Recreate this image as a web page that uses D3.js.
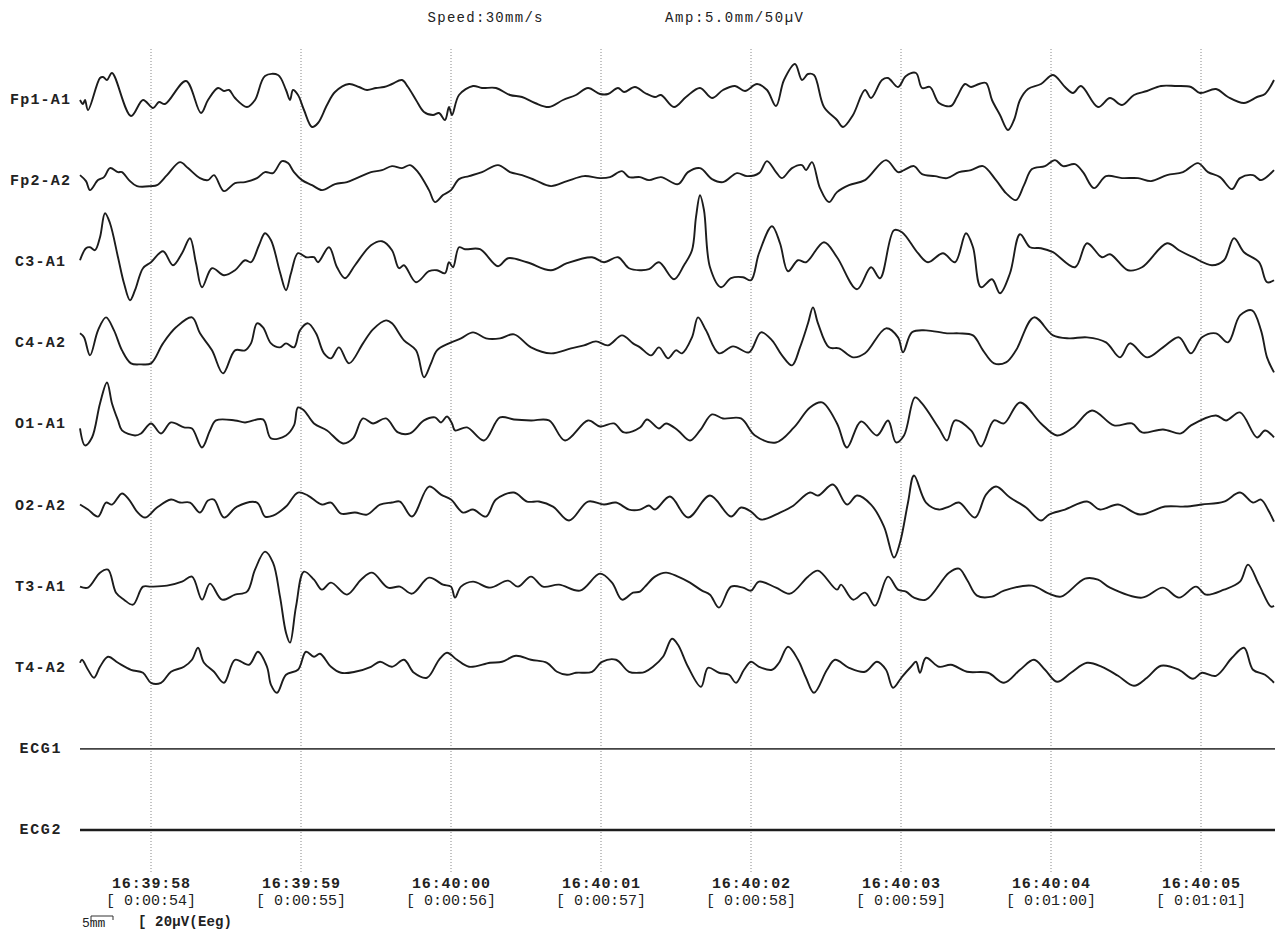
<!DOCTYPE html>
<html>
<head>
<meta charset="utf-8">
<script src="https://cdn.jsdelivr.net/npm/d3@7"></script>
<style>
  body { margin: 0; background: #fff; }
  text { font-family: "Liberation Mono", "Courier New", monospace; fill: #222; }
</style>
</head>
<body>
<div id="eeg"></div>
<script>
// montage
const channels = ["Fp1-A1", "Fp2-A2", "C3-A1", "C4-A2", "O1-A1", "O2-A2", "T3-A1", "T4-A2", "ECG1", "ECG2"];

// page timing: 150 samples per second, first second mark at sample 71
const fs = 150;
const firstTick = 71;
const nSamples = 1195;
const clockLabels = ["16:39:58", "16:39:59", "16:40:00", "16:40:01", "16:40:02", "16:40:03", "16:40:04", "16:40:05"];
const elapsedLabels = ["[ 0:00:54]", "[ 0:00:55]", "[ 0:00:56]", "[ 0:00:57]", "[ 0:00:58]", "[ 0:00:59]", "[ 0:01:00]", "[ 0:01:01]"];

// traces: [sample, µV] read from the page
const fp1 = [[0,0],[3,-4],[5,0],[8,-10],[20,22],[23,23],[27,20],[32,27],[51,-16],[63,0],[73,-8],[79,-2],[85,-4],[106,19],[121,-13],[128,0],[138,12],[144,9],[149,10],[155,2],[167,-7],[175,0],[185,24],[198,25],[206,10],[210,0],[213,10],[218,5],[224,-10],[232,-27],[238,-23],[247,-5],[255,8],[269,16],[279,13],[287,10],[296,12],[304,13],[312,16],[322,20],[328,13],[336,0],[344,-12],[353,-15],[359,-13],[365,-20],[369,-7],[372,-15],[379,5],[393,14],[402,12],[416,12],[430,5],[442,3],[455,-3],[469,-7],[483,0],[496,5],[508,12],[520,6],[528,6],[538,12],[544,8],[555,13],[565,7],[575,3],[581,5],[594,-7],[606,3],[620,12],[632,2],[643,10],[655,14],[665,9],[677,16],[687,10],[696,-6],[704,20],[715,36],[722,20],[728,26],[734,25],[744,-7],[757,-20],[763,-27],[773,-15],[785,10],[791,2],[802,20],[808,22],[818,13],[826,24],[836,27],[842,12],[850,13],[859,-3],[871,-6],[877,3],[885,16],[891,13],[899,16],[906,17],[912,0],[920,-15],[928,-30],[934,-20],[940,0],[948,11],[961,16],[973,25],[985,13],[993,7],[1001,14],[1018,-7],[1030,2],[1042,-5],[1054,5],[1067,9],[1081,14],[1095,14],[1111,13],[1120,7],[1136,11],[1148,3],[1164,-3],[1177,3],[1185,6],[1194,20]];
const fp2 = [[0,6],[6,0],[10,-9],[18,1],[24,4],[30,13],[38,9],[42,9],[49,1],[57,-5],[71,-5],[77,-4],[87,6],[100,19],[108,13],[120,3],[128,1],[134,6],[144,-10],[155,-2],[165,-1],[177,3],[185,9],[193,8],[202,20],[208,18],[214,9],[222,1],[232,-4],[242,-9],[255,-3],[267,-1],[279,4],[291,9],[302,11],[312,15],[322,13],[330,16],[338,9],[349,-9],[355,-21],[363,-14],[371,-9],[379,2],[389,5],[402,9],[418,16],[430,9],[442,6],[455,1],[471,-5],[487,0],[504,5],[520,3],[530,4],[542,10],[549,4],[560,4],[569,1],[581,4],[598,-3],[608,9],[620,13],[632,2],[643,-1],[657,8],[667,5],[679,8],[687,20],[696,9],[702,3],[712,13],[722,16],[726,11],[732,19],[740,-7],[749,-21],[757,-11],[769,-4],[785,1],[806,21],[818,9],[824,11],[834,15],[842,7],[855,5],[867,3],[879,9],[891,11],[903,15],[916,1],[926,-12],[936,-19],[944,-4],[952,12],[965,15],[975,21],[983,15],[995,17],[1003,9],[1014,-7],[1026,5],[1042,3],[1058,3],[1071,0],[1087,6],[1103,9],[1118,18],[1128,9],[1140,4],[1152,-8],[1160,3],[1173,6],[1181,1],[1194,11]];
const c3 = [[0,2],[6,14],[10,15],[15,12],[20,25],[25,49],[30,39],[38,5],[44,-21],[50,-38],[55,-28],[63,-6],[71,0],[83,11],[93,-3],[102,9],[110,24],[116,-1],[122,-25],[132,-6],[144,-13],[155,-8],[165,2],[171,0],[179,17],[185,29],[191,22],[200,-10],[206,-28],[211,-11],[218,9],[226,5],[234,5],[238,0],[249,15],[257,-5],[265,-16],[275,-3],[291,17],[302,21],[312,12],[319,-6],[324,-3],[336,-20],[349,-9],[357,-8],[365,-11],[369,0],[373,-5],[379,15],[385,13],[400,13],[418,-4],[428,4],[447,0],[471,-8],[487,-1],[512,5],[524,0],[538,5],[549,-6],[560,-8],[569,-7],[579,0],[594,-17],[604,-3],[612,12],[616,45],[620,67],[624,52],[630,-5],[641,-25],[651,-16],[663,-15],[671,-18],[679,9],[692,36],[700,19],[708,-9],[718,2],[726,0],[744,20],[757,5],[777,-27],[791,-5],[800,-16],[814,32],[822,30],[838,9],[848,0],[863,9],[875,0],[886,29],[893,15],[901,-25],[912,-17],[920,-31],[930,-11],[940,28],[950,15],[961,14],[973,10],[995,-5],[1007,19],[1022,5],[1030,8],[1048,-8],[1062,-5],[1087,19],[1099,12],[1113,5],[1132,-3],[1144,2],[1154,24],[1164,10],[1179,0],[1187,-20],[1194,-18]];
const c4 = [[0,10],[4,6],[10,-12],[18,13],[26,26],[34,13],[42,-7],[51,-20],[61,-21],[71,-20],[83,0],[96,16],[112,26],[120,10],[132,-7],[143,-30],[155,-7],[165,-7],[171,0],[177,20],[183,16],[191,0],[200,-4],[206,0],[214,-4],[220,13],[228,20],[236,10],[244,-10],[251,-15],[259,-4],[269,-20],[283,0],[293,14],[306,23],[312,20],[324,3],[336,-7],[344,-34],[351,-20],[357,-7],[369,0],[381,5],[393,11],[406,5],[420,5],[434,9],[451,-4],[471,-10],[491,-5],[504,-2],[516,2],[528,-2],[542,8],[553,0],[560,-4],[571,-12],[579,-4],[588,-15],[596,-7],[602,-10],[612,6],[618,26],[626,13],[639,-10],[653,-3],[669,-9],[681,11],[692,3],[702,-12],[712,-22],[720,-4],[728,20],[733,36],[738,20],[749,-4],[759,-5],[773,-14],[785,-10],[806,15],[818,6],[823,-9],[832,11],[846,13],[867,10],[879,10],[893,8],[903,-7],[914,-20],[926,-19],[936,-7],[954,26],[973,8],[989,5],[1007,6],[1026,1],[1040,-14],[1050,0],[1067,-14],[1083,-4],[1099,6],[1111,-10],[1122,6],[1136,10],[1148,1],[1160,28],[1172,33],[1181,13],[1187,-14],[1194,-29]];
const o1 = [[0,-4],[5,-21],[12,-13],[20,21],[27,42],[32,21],[38,4],[42,-6],[55,-11],[61,-9],[71,1],[81,-9],[91,2],[104,-3],[112,-4],[122,-23],[130,-6],[136,4],[155,4],[165,2],[183,5],[191,-14],[206,-11],[214,-1],[218,17],[224,14],[234,1],[247,-6],[263,-19],[273,-14],[283,6],[293,1],[306,6],[318,-8],[330,-9],[344,4],[355,7],[361,2],[367,8],[372,1],[375,-6],[387,-3],[404,-16],[420,7],[434,5],[451,4],[469,4],[485,-16],[508,4],[520,-2],[534,1],[544,-8],[560,-3],[567,5],[579,-4],[586,1],[598,-6],[610,-16],[620,-6],[632,10],[643,6],[661,6],[675,-11],[696,-18],[714,-3],[730,17],[742,22],[757,1],[767,-23],[781,3],[797,-11],[808,4],[816,-18],[824,-11],[835,27],[842,21],[859,-4],[867,-16],[875,4],[891,-6],[901,-22],[914,4],[924,1],[940,22],[961,1],[977,-11],[993,-3],[1012,14],[1034,-1],[1052,1],[1062,-8],[1083,-5],[1101,-9],[1111,-1],[1136,9],[1146,4],[1160,12],[1177,-13],[1185,-6],[1194,-13]];
const o2 = [[0,1],[8,-4],[18,-11],[26,3],[32,1],[42,12],[49,6],[57,-6],[65,-12],[77,-2],[91,6],[100,3],[110,3],[120,-7],[128,5],[134,6],[144,-12],[157,-1],[177,3],[185,-11],[193,-10],[206,-1],[218,13],[228,10],[242,1],[251,3],[261,-8],[275,-7],[287,-9],[300,1],[312,3],[320,4],[332,-11],[349,19],[361,11],[371,6],[383,-7],[393,-4],[406,-11],[416,6],[434,13],[447,4],[459,4],[473,-1],[489,-15],[508,4],[524,1],[536,3],[549,-4],[560,-4],[569,0],[575,-4],[590,9],[608,-12],[630,10],[651,-11],[661,-2],[671,-6],[681,-14],[700,-7],[712,-1],[730,13],[738,10],[753,21],[767,1],[777,10],[791,1],[804,-21],[814,-52],[820,-37],[828,3],[834,30],[846,3],[859,-4],[869,-1],[879,3],[895,-12],[906,11],[916,19],[930,8],[946,-2],[961,-15],[969,-9],[985,-4],[1007,4],[1020,-4],[1038,1],[1060,-9],[1085,-1],[1105,-1],[1122,1],[1144,4],[1160,13],[1173,3],[1181,6],[1189,-6],[1194,-16]];
const t3 = [[0,0],[8,-1],[20,14],[28,17],[36,-6],[44,-13],[53,-18],[63,0],[71,0],[87,1],[102,5],[112,10],[122,-13],[130,3],[142,-13],[155,-8],[167,-5],[175,17],[185,35],[193,24],[200,-10],[206,-46],[210,-56],[216,-20],[224,15],[234,7],[242,-3],[251,4],[267,-8],[281,7],[292,14],[308,-1],[320,0],[332,-7],[349,9],[363,2],[371,0],[375,-11],[381,0],[393,5],[410,-1],[428,6],[438,0],[451,10],[463,0],[479,2],[500,-4],[520,13],[532,4],[542,-13],[553,-6],[560,-5],[565,0],[575,10],[586,14],[598,10],[610,4],[622,-4],[630,-8],[639,-21],[651,0],[663,-1],[671,-4],[679,5],[696,-1],[710,-7],[728,10],[738,16],[757,-3],[761,2],[773,-13],[785,-6],[795,-19],[808,10],[818,-3],[826,-5],[834,-11],[846,-13],[869,14],[879,18],[887,7],[897,-9],[912,-10],[924,-4],[952,1],[969,-7],[981,-10],[1005,8],[1018,7],[1030,-1],[1062,-11],[1083,-1],[1099,-11],[1116,0],[1126,-8],[1144,-3],[1160,5],[1168,22],[1179,2],[1191,-20],[1194,-19]];
const t4 = [[0,5],[2,8],[8,-2],[14,-10],[20,1],[28,11],[38,5],[51,-2],[63,-5],[71,-15],[81,-15],[91,-4],[104,1],[112,8],[118,20],[124,5],[134,-4],[144,-15],[155,8],[169,3],[178,16],[187,1],[191,-17],[197,-25],[206,-7],[218,-2],[226,16],[234,11],[240,14],[251,1],[261,-5],[275,-4],[291,1],[300,6],[312,1],[324,8],[334,-5],[347,-10],[359,8],[367,15],[377,8],[389,1],[410,5],[422,6],[436,12],[451,8],[467,5],[477,-4],[487,-7],[496,-5],[512,-4],[522,6],[536,8],[549,-4],[560,-5],[565,-4],[573,1],[583,11],[592,29],[598,23],[608,1],[621,-19],[628,0],[639,-5],[649,-7],[656,-15],[664,-2],[671,6],[679,1],[692,-2],[699,5],[708,21],[718,8],[726,-10],[734,-25],[747,-2],[755,8],[769,0],[785,-4],[797,6],[806,-2],[813,-20],[822,-9],[831,1],[836,6],[840,-5],[846,10],[859,1],[871,3],[887,-4],[908,-5],[924,-15],[940,-2],[954,8],[965,-2],[977,-14],[991,-5],[1007,5],[1022,1],[1038,-8],[1054,-18],[1067,-10],[1081,2],[1099,-2],[1113,-11],[1122,-5],[1136,-8],[1152,10],[1164,20],[1173,-2],[1185,-7],[1194,-15]];
const ecg1 = [[0,0],[1195,0]];
const ecg2 = [[0,0],[1195,0]];

const traces = [fp1, fp2, c3, c4, o1, o2, t3, t4, ecg1, ecg2];

const width = 1277, height = 931;
const svg = d3.select("#eeg").append("svg")
    .attr("width", width)
    .attr("height", height);

// sample -> x
const x = d3.scaleLinear().domain([0, nSamples]).range([80, 1275]);
// channel -> baseline
const row = d3.scalePoint().domain(channels).range([100, 830]);
// µV -> offset
const amp = d3.scaleLinear().domain([-50, 50]).range([50, -50]);

// header
svg.append("text")
    .attr("x", 485).attr("y", 18)
    .attr("text-anchor", "middle").attr("dominant-baseline", "middle")
    .attr("font-size", 14).attr("textLength", 115)
    .text("Speed:30mm/s");
svg.append("text")
    .attr("x", 734).attr("y", 18)
    .attr("text-anchor", "middle").attr("dominant-baseline", "middle")
    .attr("font-size", 14).attr("textLength", 138)
    .text("Amp:5.0mm/50\u00b5V");

// one dotted line per second
const ticks = clockLabels.map((d, i) => firstTick + i * fs);
svg.append("g")
    .selectAll("line")
    .data(ticks)
    .join("line")
    .attr("x1", d => x(d)).attr("x2", d => x(d))
    .attr("y1", 49).attr("y2", 872)
    .attr("stroke", "#888")
    .attr("stroke-width", 1)
    .attr("stroke-dasharray", "1,2");

// time labels
const tl = svg.append("g").selectAll("g")
    .data(ticks)
    .join("g")
    .attr("transform", d => `translate(${x(d)},0)`);
tl.append("text")
    .attr("y", 884).attr("text-anchor", "middle").attr("dominant-baseline", "middle")
    .attr("font-size", 15).attr("font-weight", "bold").attr("textLength", 78)
    .text((d, i) => clockLabels[i]);
tl.append("text")
    .attr("y", 901).attr("text-anchor", "middle").attr("dominant-baseline", "middle")
    .attr("font-size", 15).attr("textLength", 90)
    .text((d, i) => elapsedLabels[i]);

// channel labels
svg.append("g").selectAll("text")
    .data(channels)
    .join("text")
    .attr("x", 40)
    .attr("y", d => row(d))
    .attr("text-anchor", "middle").attr("dominant-baseline", "middle")
    .attr("font-size", 15).attr("font-weight", "bold")
    .attr("textLength", d => d.startsWith("ECG") ? 41 : d.length * 10)
    .text(d => d);

// traces
const line = d3.line()
    .x(d => x(d[0]))
    .y(d => d[1])
    .curve(d3.curveCatmullRom.alpha(0.5));

svg.append("g").selectAll("path")
    .data(traces)
    .join("path")
    .attr("fill", "none")
    .attr("stroke", (d, i) => channels[i] === "ECG1" ? "#444" : "#1c1c1c")
    .attr("stroke-width", (d, i) => channels[i] === "ECG2" ? 2.3 : (channels[i] === "ECG1" ? 1.6 : 1.9))
    .attr("stroke-linejoin", "round")
    .attr("d", (d, i) => line(d.map(p => [p[0], row(channels[i]) + amp(p[1])])));

// calibration footer
svg.append("text")
    .attr("x", 82).attr("y", 924)
    .attr("dominant-baseline", "middle")
    .attr("font-family", "'Liberation Serif', serif")
    .attr("font-size", 13)
    .text("5mm");
svg.append("path")
    .attr("d", "M91,921V916H113V920")
    .attr("fill", "none").attr("stroke", "#333").attr("stroke-width", 1);
svg.append("text")
    .attr("x", 138).attr("y", 922)
    .attr("dominant-baseline", "middle")
    .attr("font-size", 14).attr("font-weight", "bold").attr("textLength", 94)
    .text("[ 20\u00b5V(Eeg)");
</script>
</body>
</html>
